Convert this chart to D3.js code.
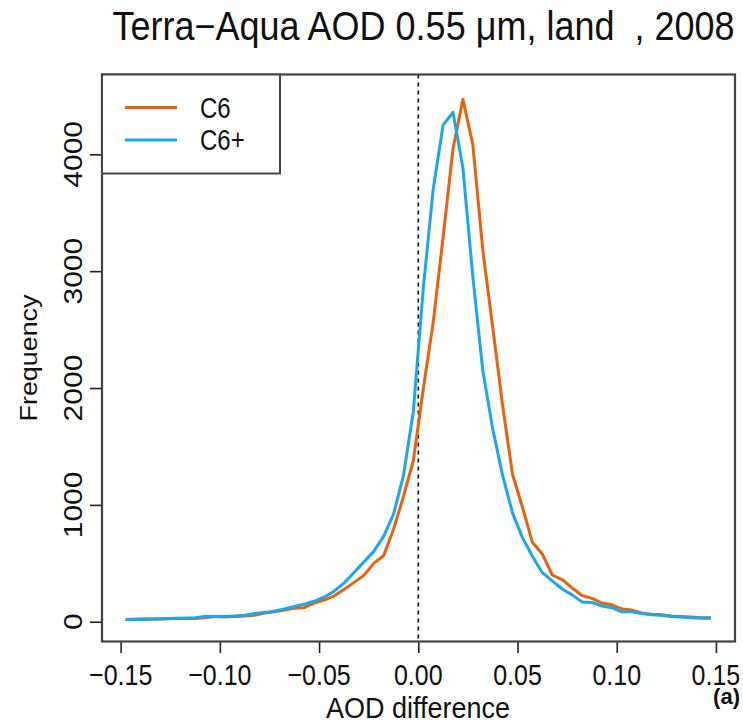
<!DOCTYPE html>
<html>
<head>
<meta charset="utf-8">
<script src="https://cdn.jsdelivr.net/npm/d3@7"></script>
<style>
  body { margin: 0; background: #fff; }
  text { font-family: "Liberation Sans", Arial, sans-serif; fill: #111; }
</style>
</head>
<body>
<script>
'use strict';

// bin centres of the AOD difference histogram
const aodDiff = [
  -0.1475, -0.1425, -0.1375, -0.1325, -0.1275, -0.1225, -0.1175, -0.1125, -0.1075, -0.1025,
  -0.0975, -0.0925, -0.0875, -0.0825, -0.0775, -0.0725, -0.0675, -0.0625, -0.0575, -0.0525,
  -0.0475, -0.0425, -0.0375, -0.0325, -0.0275, -0.0225, -0.0175, -0.0125, -0.0075, -0.0025,
  0.0025, 0.0075, 0.0125, 0.0175, 0.0225, 0.0275, 0.0325, 0.0375, 0.0425, 0.0475,
  0.0525, 0.0575, 0.0625, 0.0675, 0.0725, 0.0775, 0.0825, 0.0875, 0.0925, 0.0975,
  0.1025, 0.1075, 0.1125, 0.1175, 0.1225, 0.1275, 0.1325, 0.1375, 0.1425, 0.1475
];

// frequency, collection 6
const freqC6 = [
  20, 22, 25, 22, 25, 28, 30, 28, 35, 45,
  40, 45, 50, 55, 75, 85, 100, 115, 120, 160,
  185, 220, 275, 335, 395, 500, 565, 790, 1070, 1380,
  1990, 2560, 3290, 4050, 4470, 4080, 3180, 2520, 1850, 1260,
  980, 680, 580, 400, 360, 290, 225, 200, 160, 145,
  110, 100, 75, 65, 60, 50, 45, 40, 35, 35
];

// frequency, collection 6+
const freqC6p = [
  20, 22, 20, 25, 25, 30, 30, 35, 45, 45,
  45, 50, 55, 70, 80, 90, 110, 130, 150, 175,
  210, 260, 330, 420, 510, 600, 730, 920, 1250, 1800,
  2850, 3700, 4250, 4360, 3880, 2950, 2150, 1650, 1250, 930,
  720, 560, 420, 350, 280, 230, 170, 165, 135, 120,
  85, 85, 70, 60, 55, 45, 40, 35, 30, 30
];

const seriesNames = ["C6", "C6+"];
const seriesColors = ["#e8620f", "#1ba7ec"];
const xTicks = [-0.15, -0.10, -0.05, 0.00, 0.05, 0.10, 0.15];
const yTicks = [0, 1000, 2000, 3000, 4000];

const width = 743, height = 723;
const box = { left: 102, right: 735, top: 74.5, bottom: 641.5 };
const tallY = 1.2; // glyphs in the original are drawn taller than wide

const svg = d3.select('body')
  .append('svg')
  .attr('width', width)
  .attr('height', height);

const xScale = d3.scaleLinear()
  .domain([-0.1594, 0.1596])
  .range([box.left, box.right]);

const yScale = d3.scaleLinear()
  .domain([-169, 4683])
  .range([box.bottom, box.top]);

const minus = s => s.replace('-', '\u2212');

// put a horizontal label at (x, y) baseline, stretched vertically
function hText(x, y, str, size, anchor, stretch) {
  return svg.append('text')
    .attr('transform', `translate(${x}, ${y}) scale(1, ${stretch || tallY})`)
    .attr('text-anchor', anchor || 'middle')
    .style('font-size', size + 'px')
    .text(str);
}

// x axis (R style: ticks below the box)
const xAxis = d3.axisBottom(xScale)
  .tickValues(xTicks)
  .tickSize(11.5)
  .tickFormat('');

const gx = svg.append('g')
  .attr('transform', `translate(0, ${box.bottom})`)
  .call(xAxis);
gx.select('.domain').remove();
gx.selectAll('line').attr('stroke', '#222').attr('stroke-width', 1.6);

xTicks.forEach(t => hText(xScale(t), 685, minus(d3.format('.2f')(t)), 25));

// y axis, labels rotated like R's default
const yAxis = d3.axisLeft(yScale)
  .tickValues(yTicks)
  .tickSize(12)
  .tickFormat('');

const gy = svg.append('g')
  .attr('transform', `translate(${box.left}, 0)`)
  .call(yAxis);
gy.select('.domain').remove();
gy.selectAll('line').attr('stroke', '#222').attr('stroke-width', 1.6);

svg.selectAll('.ylab')
  .data(yTicks)
  .enter()
  .append('text')
  .attr('class', 'ylab')
  .attr('transform', d => `translate(82, ${yScale(d)}) rotate(-90) scale(${tallY}, 1)`)
  .attr('text-anchor', 'middle')
  .style('font-size', '25px')
  .text(d => d3.format('d')(d));

// zero reference line
svg.append('line')
  .attr('x1', xScale(0)).attr('x2', xScale(0))
  .attr('y1', box.top).attr('y2', box.bottom)
  .attr('stroke', '#111')
  .attr('stroke-width', 1.6)
  .attr('stroke-dasharray', '4,4');

// the two frequency curves
const line = d3.line()
  .x((d, i) => xScale(aodDiff[i]))
  .y(d => yScale(d));

[freqC6, freqC6p].forEach((vals, k) => {
  svg.append('path')
    .datum(vals)
    .attr('fill', 'none')
    .attr('stroke', seriesColors[k])
    .attr('stroke-width', 3)
    .attr('stroke-linejoin', 'round')
    .attr('d', line);
});

// plot box
svg.append('rect')
  .attr('x', box.left).attr('y', box.top)
  .attr('width', box.right - box.left)
  .attr('height', box.bottom - box.top)
  .attr('fill', 'none')
  .attr('stroke', '#444')
  .attr('stroke-width', 2.2);

// legend
const legend = svg.append('g');
legend.append('rect')
  .attr('x', box.left).attr('y', box.top)
  .attr('width', 178).attr('height', 99)
  .attr('fill', '#fff')
  .attr('stroke', '#444')
  .attr('stroke-width', 2);

seriesNames.forEach((name, k) => {
  const ly = 107.5 + k * 32.5;
  legend.append('line')
    .attr('x1', 125).attr('x2', 177)
    .attr('y1', ly).attr('y2', ly)
    .attr('stroke', seriesColors[k])
    .attr('stroke-width', 3);
  hText(200, ly + 10, name, 24, 'start');
});

// title and axis labels
hText(423.5, 40, 'Terra\u2212Aqua AOD 0.55 \u03bcm, land  , 2008', 36, 'middle', 1.12)
  .style('white-space', 'pre');

hText(418, 718, 'AOD difference', 27, 'middle', 1.08);

svg.append('text')
  .attr('transform', `translate(37, ${(box.top + box.bottom) / 2}) rotate(-90) scale(1.12, 1)`)
  .attr('text-anchor', 'middle')
  .style('font-size', '24px')
  .text('Frequency');

hText(740, 704, '(a)', 22, 'end', 1.0)
  .style('font-weight', 'bold');
</script>
</body>
</html>
